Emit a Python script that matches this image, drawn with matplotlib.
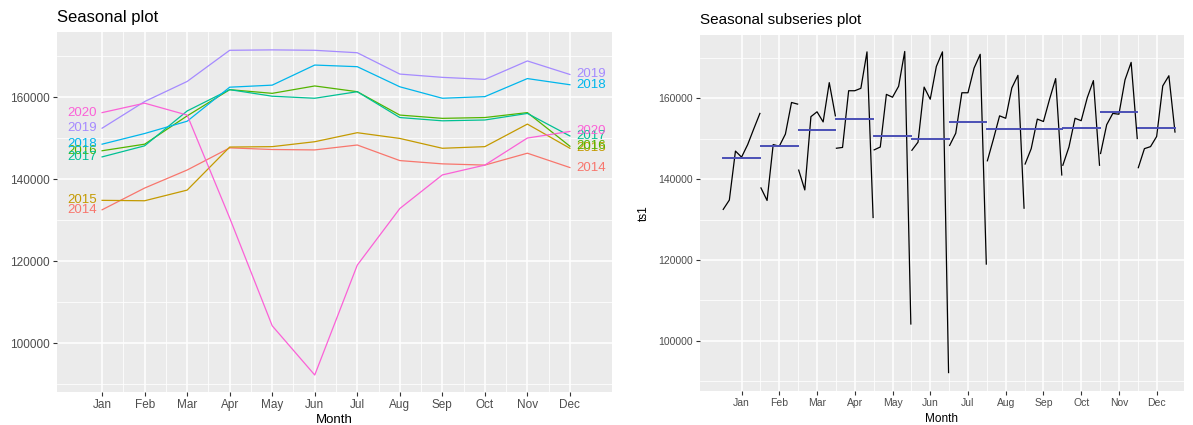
import numpy as np
import matplotlib
matplotlib.use('Agg')
import matplotlib.pyplot as plt

plt.rcParams['font.family'] = ['Liberation Sans', 'DejaVu Sans']

months = ['Jan', 'Feb', 'Mar', 'Apr', 'May', 'Jun', 'Jul', 'Aug', 'Sep', 'Oct', 'Nov', 'Dec']
years = ['2014', '2015', '2016', '2017', '2018', '2019', '2020']

y2014 = [132500, 137800, 142200, 147600, 147200, 147100, 148300, 144500, 143700, 143400, 146300, 142800]
y2015 = [134800, 134700, 137300, 147800, 147900, 149100, 151300, 149900, 147500, 147900, 153400, 147500]
y2016 = [146900, 148500, 155400, 161800, 160900, 162700, 161300, 155600, 154800, 155000, 156200, 148000]
y2017 = [145400, 148100, 156600, 161800, 160200, 159700, 161300, 155000, 154200, 154400, 156000, 150500]
y2018 = [148500, 151100, 154100, 162400, 162900, 167800, 167400, 162500, 159700, 160100, 164500, 163000]
y2019 = [152400, 158900, 163800, 171400, 171500, 171400, 170800, 165600, 164800, 164300, 168800, 165500]
y2020 = [156200, 158500, 155600, 130500, 104200, 92200, 119000, 132800, 141000, 143400, 150000, 151600]

series = [y2014, y2015, y2016, y2017, y2018, y2019, y2020]
colors = ['#F8766D', '#C49A00', '#53B400', '#00C094', '#00B6EB', '#A58AFF', '#FB61D7']

yticks = [100000, 120000, 140000, 160000]
yminor = [90000, 110000, 130000, 150000, 170000]

fig = plt.figure(figsize=(11.93, 4.25), dpi=100)


def gg_style(ax, xlim, ylim, tsize, lsize, lpad):
    ax.set_facecolor('#EBEBEB')
    for s in ax.spines.values():
        s.set_visible(False)
    x = np.arange(1, 13)
    ax.set_xlim(*xlim)
    ax.set_ylim(*ylim)
    ax.set_xticks(x)
    ax.set_xticklabels(months)
    ax.set_xticks(x[:-1] + 0.5, minor=True)
    ax.set_yticks(yticks)
    ax.set_yticklabels([str(v) for v in yticks])
    ax.set_yticks(yminor, minor=True)
    ax.grid(which='major', color='white', linewidth=1.1)
    ax.grid(which='minor', color='white', linewidth=0.55)
    ax.set_axisbelow(True)
    ax.tick_params(which='major', length=3, color='#333333', labelcolor='#4D4D4D', labelsize=tsize, pad=2)
    ax.tick_params(which='minor', length=0)
    ax.set_xlabel('Month', fontsize=lsize, labelpad=lpad)


# Seasonal plot
ax1 = fig.add_axes([0.0478, 0.0776, 0.4652, 0.847])
gg_style(ax1, (-0.06, 12.99), (88050, 175850), 8.5, 9.5, 2)
x = np.arange(1, 13)
for yr, vals, c in zip(years, series, colors):
    ax1.plot(x, vals, color=c, linewidth=0.9)
    ax1.text(0.88, vals[0], yr, color=c, fontsize=9.5, ha='right', va='center')
    ax1.text(12.16, vals[-1], yr, color=c, fontsize=9.5, ha='left', va='center')
ax1.set_title('Seasonal plot', loc='left', fontsize=12, pad=7)

# Seasonal subseries plot
ax2 = fig.add_axes([0.5868, 0.08, 0.4055, 0.8376])
gg_style(ax2, (-0.1, 12.72), (87650, 175560), 7.5, 8.5, 4)
data = np.array(series)
offs = (np.arange(len(years)) - 3) * 0.162
for m in range(12):
    xs = m + 1 + offs
    ax2.plot(xs, data[:, m], color='black', linewidth=0.9)
    ax2.plot([xs[0], xs[-1]], [data[:, m].mean()] * 2, color='#4A4FB5', linewidth=1.4)
ax2.set_ylabel('ts1', fontsize=8.5)
ax2.yaxis.set_label_coords(-0.103, 0.5)
ax2.set_title('Seasonal subseries plot', loc='left', fontsize=11, pad=8)

fig.savefig('out.png', dpi=100)
